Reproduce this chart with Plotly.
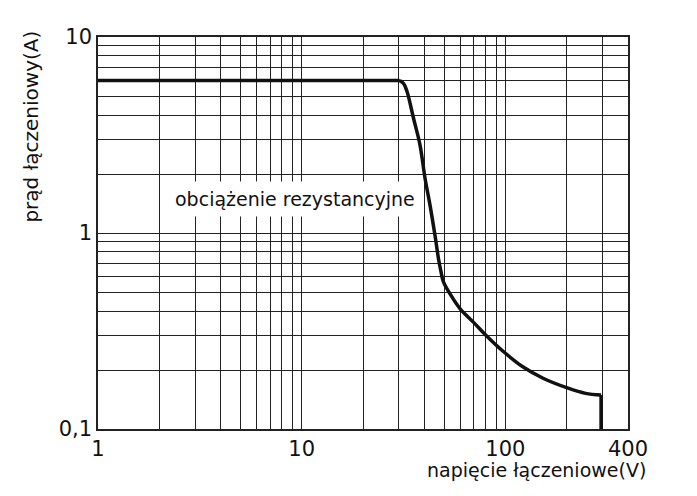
import math
import plotly.graph_objects as go

# data
curve_x = [1, 30.3, 31.7, 32.9, 35.4, 38.1, 40.3, 42.7, 45.2, 46.9, 48.3, 49.6, 54.1,
           60, 70, 80, 97.1, 122.3, 154, 201.7, 247.6, 295, 295]
curve_y = [6, 6, 5.77, 5.27, 3.85, 2.81, 1.91, 1.38, 0.962, 0.744, 0.635, 0.565, 0.48,
           0.41, 0.349, 0.302, 0.25, 0.207, 0.181, 0.162, 0.152, 0.149, 0.1]

x_grid = [1, 2, 3, 4, 5, 6, 7, 8, 9, 10, 20, 30, 40, 50, 60, 70, 80, 90, 100, 200, 300, 400]
x_labels = {1: "1", 10: "10", 100: "100", 400: "400"}
y_grid = [0.1, 0.2, 0.3, 0.4, 0.5, 0.6, 0.7, 0.8, 0.9, 1, 2, 3, 4, 5, 6, 7, 8, 9, 10]
y_labels = {0.1: "0,1", 1: "1", 10: "10"}

x_title = "napięcie łączeniowe(V)"
y_title = "prąd łączeniowy(A)"
note = "obciążenie rezystancyjne"

FONT = "DejaVu Sans"
LINE = dict(color="#111111", width=3.5)
fig = go.Figure()
# flat part
fig.add_trace(go.Scatter(x=curve_x[:2], y=curve_y[:2], mode="lines",
                         line=dict(**LINE, shape="linear"),
                         hoverinfo="skip", showlegend=False))
# falling, smooth part
fig.add_trace(go.Scatter(x=curve_x[1:-1], y=curve_y[1:-1], mode="lines",
                         line=dict(**LINE, shape="spline", smoothing=1.0),
                         hoverinfo="skip", showlegend=False))
# final vertical drop
fig.add_trace(go.Scatter(x=curve_x[-2:], y=curve_y[-2:], mode="lines",
                         line=dict(**LINE, shape="linear"),
                         hoverinfo="skip", showlegend=False))

fig.update_layout(
    width=689, height=488,
    margin=dict(l=89.5, r=69, t=29, b=67),
    paper_bgcolor="white", plot_bgcolor="white",
    font=dict(family=FONT, size=18, color="#111111"),
    xaxis=dict(type="log", range=[0, math.log10(400)],
               tickvals=x_grid, ticktext=[x_labels.get(v, "") for v in x_grid],
               showgrid=True, gridcolor="#222222", gridwidth=1.3,
               showline=True, linecolor="#222222", linewidth=1.5, mirror=True,
               ticks="", zeroline=False, tickfont=dict(size=21)),
    yaxis=dict(type="log", range=[-1, 1],
               tickvals=y_grid, ticktext=[y_labels.get(v, "") for v in y_grid],
               showgrid=True, gridcolor="#222222", gridwidth=1.3,
               showline=True, linecolor="#222222", linewidth=1.5, mirror=True,
               ticks="", zeroline=False, tickfont=dict(size=21)),
    annotations=[
        dict(text=note, x=math.log10(9.3), y=math.log10(1.49), xref="x", yref="y",
             showarrow=False, bgcolor="white", borderpad=6,
             font=dict(size=19, family=FONT)),
        dict(text=x_title, x=1.037, y=-0.072, xref="paper", yref="paper",
             xanchor="right", yanchor="top", showarrow=False,
             font=dict(size=19, family=FONT)),
        dict(text=y_title, x=-0.126, y=1.022, xref="paper", yref="paper",
             xanchor="center", yanchor="top", textangle=-90, showarrow=False,
             font=dict(size=20, family=FONT)),
    ],
)

fig.write_html("out.html")
